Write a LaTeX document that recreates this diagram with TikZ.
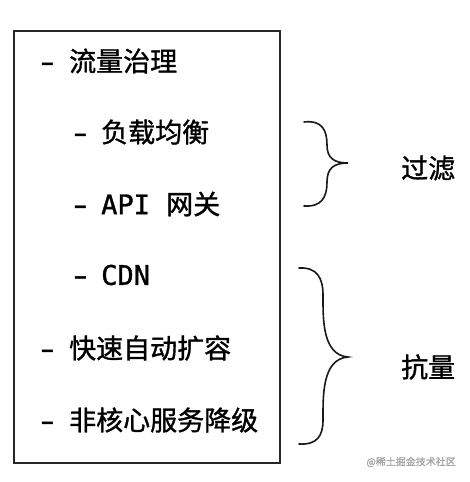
\documentclass[tikz,border=0pt]{standalone}
\usepackage{fontspec}
\setmainfont{Noto Sans CJK SC}[FakeBold=1.2,AutoFakeBold=false]
\newfontfamily\monofont{DejaVu Sans Mono}[FakeBold=1.3]
\begin{document}
\begin{tikzpicture}[x=1pt,y=-1pt,
  item/.style={anchor=west,inner sep=0pt,font=\fontsize{27}{30}\selectfont,text=black},
  side/.style={anchor=west,inner sep=0pt,font=\fontsize{27}{30}\selectfont,text=black},
  brace/.style={line width=1.6pt,draw=black!90,line cap=round},
  frame/.style={line width=1.5pt,draw=black!85}]
\useasboundingbox (0,0) rectangle (469,482);
\node[frame,draw,minimum width=266pt,minimum height=432pt,anchor=north west,inner sep=0pt] (box) at (13,30) {};
\newcommand{\dashmark}[1]{\makebox[#1][l]{\monofont\scalebox{1.5}[1]{-}}}
\node[item] (l1) at (35,61) {\dashmark{34pt}流量治理};
\node[item] (l2) at (68,132) {\dashmark{33pt}负载均衡};
\node[item] (l3) at (68,204) {\dashmark{33pt}{\monofont API }网关};
\node[item] (l4) at (68,275) {\dashmark{33pt}{\monofont CDN}};
\node[item] (l5) at (35,348) {\dashmark{34pt}快速自动扩容};
\node[item] (l6) at (35,420) {\dashmark{34pt}非核心服务降级};
\coordinate (b1s) at (304,122);
\coordinate (b1t) at (348,163);
\coordinate (b1e) at (304,206);
\draw[brace] (b1s) .. controls (322,120) and (327,130) .. (327,145)
  .. controls (327,158) and (334,163) .. (b1t)
  .. controls (334,163) and (327,168) .. (327,182)
  .. controls (327,197) and (322,207) .. (b1e);
\coordinate (b2s) at (299,268);
\coordinate (b2t) at (348,357);
\coordinate (b2e) at (299,444);
\draw[brace] (b2s) .. controls (317,267) and (323,278) .. (323,295)
  .. controls (323,318) and (322,355) .. (b2t)
  .. controls (322,359) and (323,396) .. (323,420)
  .. controls (323,436) and (317,445) .. (b2e);
\node[side] (g1) at (401,168) {过滤};
\node[side] (g2) at (401,367) {抗量};
\node[anchor=east,inner sep=0pt,font=\fontsize{10}{12}\selectfont,text=black!35] (wm) at (456,462) {@稀土掘金技术社区};
\end{tikzpicture}
\end{document}
